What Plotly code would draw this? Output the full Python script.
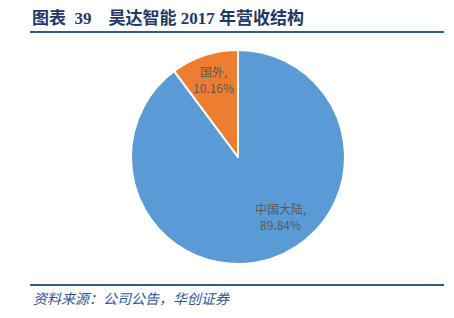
import plotly.graph_objects as go

labels = ["中国大陆", "国外"]
values = [89.84, 10.16]
colors = ["#5B9BD5", "#ED7D31"]
title_text = "图表\u00a0\u00a039\u00a0\u00a0\u00a0\u00a0昊达智能 2017 年营收结构"
source_text = "资料来源：公司公告，华创证券"
# label anchor positions (pixels), one per category
label_pos = [(280, 208), (213, 71)]

W, H = 454, 318
fig = go.Figure()
fig.add_trace(go.Pie(
    labels=labels, values=values,
    sort=False, direction="clockwise", rotation=0,
    marker=dict(colors=colors, line=dict(color="white", width=2)),
    textinfo="none",
    hoverinfo="skip", showlegend=False,
    domain=dict(x=[131 / W, 345 / W], y=[1 - 264 / H, 1 - 50 / H]),
))
total = sum(values)
lab_font = dict(family="Noto Sans CJK SC, Liberation Sans", size=12, color="#595959")
for lab, val, (px, py) in zip(labels, values, label_pos):
    fig.add_annotation(text=f"{lab},", xref="paper", yref="paper",
                       x=px / W, y=1 - py / H, xanchor="center", yanchor="middle",
                       showarrow=False, font=lab_font)
    fig.add_annotation(text=f"{val / total * 100:.2f}%", xref="paper", yref="paper",
                       x=px / W, y=1 - (py + 17) / H, xanchor="center", yanchor="middle",
                       showarrow=False, font=lab_font)
fig.add_shape(type="line", xref="paper", yref="paper",
              x0=30 / W, x1=444 / W, y0=1 - 32 / H, y1=1 - 32 / H,
              line=dict(color="#2E5C8A", width=2))
fig.add_shape(type="line", xref="paper", yref="paper",
              x0=30 / W, x1=444 / W, y0=1 - 285 / H, y1=1 - 285 / H,
              line=dict(color="#2E5C8A", width=2))
fig.add_annotation(text="<b>" + title_text + "</b>", xref="paper", yref="paper",
                   x=30 / W, y=1 - 18 / H, xanchor="left", yanchor="middle",
                   showarrow=False,
                   font=dict(family="Liberation Serif, Noto Sans CJK SC", size=17, color="#1F3864"))
fig.add_annotation(text="<i>" + source_text + "</i>", xref="paper", yref="paper",
                   x=31 / W, y=1 - 298 / H, xanchor="left", yanchor="middle",
                   showarrow=False,
                   font=dict(family="Noto Sans CJK SC", size=14, color="#2F5597"))
fig.update_layout(width=W, height=H, margin=dict(l=0, r=0, t=0, b=0),
                  paper_bgcolor="white", plot_bgcolor="white")
fig.write_html("out.html")
